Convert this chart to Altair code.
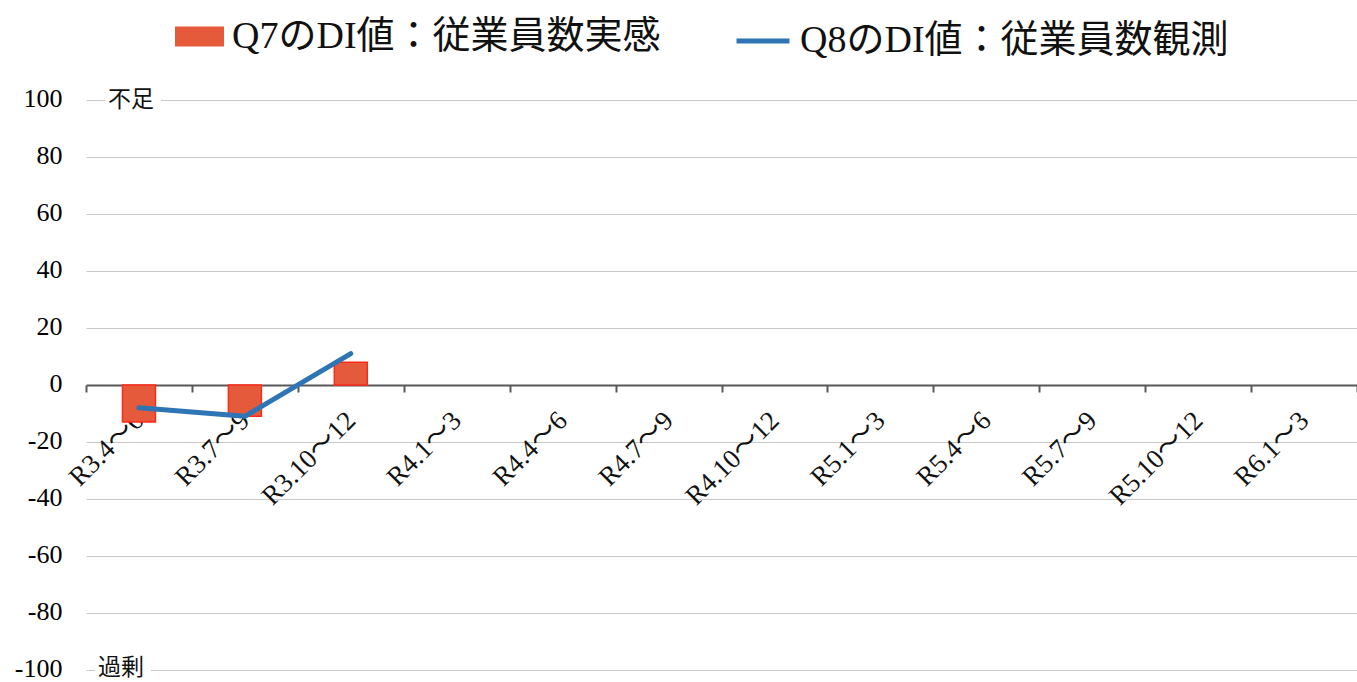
import altair as alt
import pandas as pd

# Survey periods (reiwa-era quarters)
periods = ["R3.4～6", "R3.7～9", "R3.10～12", "R4.1～3", "R4.4～6", "R4.7～9",
           "R4.10～12", "R5.1～3", "R5.4～6", "R5.7～9", "R5.10～12", "R6.1～3"]

# DI values reported so far
q7_name = "Q7のDI値：従業員数実感"
q7_values = [-13, -11, 8]
q8_name = "Q8のDI値：従業員数観測"
q8_values = [-8, -11, 11]

# Labels at the top and bottom of the value axis
notes = ["不足", "過剰"]
note_values = [100, -100]

bar_df = pd.DataFrame({"period": periods[:len(q7_values)], "value": q7_values, "series": q7_name})
line_df = pd.DataFrame({"period": periods[:len(q8_values)], "value": q8_values, "series": q8_name})

serif = "Liberation Serif, 'Noto Sans CJK JP'"
plot_h = 570

x_enc = alt.X(
    "period:N",
    sort=periods,
    scale=alt.Scale(domain=periods, paddingInner=0, paddingOuter=0),
    axis=alt.Axis(
        title=None, orient="bottom", offset=-plot_h / 2, tickBand="extent",
        ticks=True, tickSize=7, tickWidth=2, tickColor="#595959",
        domainColor="#595959", domainWidth=2, grid=False,
        labelAngle=-45, labelAlign="right", labelBaseline="middle",
        labelPadding=24, labelFont=serif, labelFontSize=27, labelColor="#111111",
        labelOverlap=False, labelBound=False,
    ),
)
y_scale = alt.Scale(domain=[-100, 100], nice=False)
y_axis = alt.Axis(
    title=None, values=list(range(-100, 101, 20)), domain=False, ticks=False,
    grid=True, gridColor="#C8C8C8", gridWidth=1, labelPadding=24,
    labelExpr="'' + datum.value", labelBaseline="alphabetic", labelOffset=6,
    labelFont="Liberation Serif", labelFontSize=26, labelColor="#000000",
)

legend_common = dict(
    orient="none", legendY=-88, title=None, labelFont=serif, labelFontSize=38,
    labelColor="#111111", labelOffset=8, padding=0, labelLimit=0,
)

bars = alt.Chart(bar_df).mark_bar(size=33, stroke="#FF2A1A", strokeWidth=1.5).encode(
    x=x_enc,
    y=alt.Y("value:Q", scale=y_scale, axis=y_axis),
    color=alt.Color(
        "series:N",
        scale=alt.Scale(domain=[q7_name], range=["#E55A3B"]),
        legend=alt.Legend(
            legendX=89, symbolType="M-1,-0.41L1,-0.41L1,0.41L-1,0.41Z", symbolSize=2401,
            symbolStrokeWidth=0, symbolOpacity=1, **legend_common,
        ),
    ),
)

line = alt.Chart(line_df).mark_line(strokeWidth=5, strokeCap="round", strokeJoin="round").encode(
    x=x_enc,
    y=alt.Y("value:Q", scale=y_scale, axis=y_axis),
    stroke=alt.Stroke(
        "series:N",
        scale=alt.Scale(domain=[q8_name], range=["#2E75B6"]),
        legend=alt.Legend(
            legendX=648, symbolType="stroke", symbolSize=2809, symbolStrokeWidth=5,
            **legend_common,
        ),
    ),
)

layers = [bars, line]
note_x = [22, 12]
note_dy = [0, -2]
for text, v, nx, ndy in zip(notes, note_values, note_x, note_dy):
    src = pd.DataFrame({"note": [text], "v": [v]})
    layers.append(
        alt.Chart(src).mark_rect(color="white").encode(
            x=alt.value(nx - 3), x2=alt.value(nx + 53),
            y=alt.Y("top:Q", scale=y_scale), y2=alt.Y2("bottom:Q"),
        ).transform_calculate(top="datum.v + 3", bottom="datum.v - 3")
    )
    layers.append(
        alt.Chart(src).mark_text(
            align="left", baseline="middle", fontSize=23, dy=ndy,
            font="'Noto Sans CJK JP'", color="#111111",
        ).encode(x=alt.value(nx), y=alt.Y("v:Q", scale=y_scale), text="note:N")
    )

chart = alt.layer(*layers).resolve_scale(color="independent", stroke="independent").properties(
    width=1271, height=plot_h,
    autosize=alt.AutoSizeParams(type="none"),
    padding={"left": 86, "top": 100, "right": 0, "bottom": 12},
    background="white",
).configure_view(stroke=None)

chart.save("out.html", embed_options={"renderer": "svg", "actions": False})
